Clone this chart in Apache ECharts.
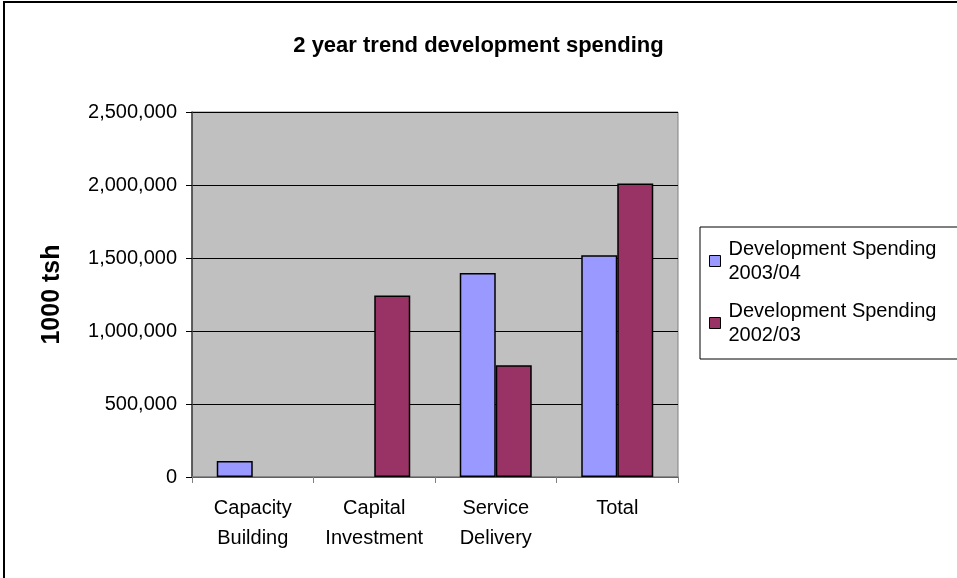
<!DOCTYPE html>
<html>
<head>
<meta charset="utf-8">
<script src="https://cdn.jsdelivr.net/npm/echarts@6/dist/echarts.min.js"></script>
<style>
  html, body { margin: 0; padding: 0; background: #fff; }
  #chart { width: 957px; height: 578px; }
</style>
</head>
<body>
<div id="chart"></div>
<script>
// categories and values (1000 tsh); null = no bar drawn
const categories = ['Capacity\nBuilding', 'Capital\nInvestment', 'Service\nDelivery', 'Total']
const spending0304 = [110000, null, 1397000, 1518000]
const spending0203 = [null, 1244000, 765000, 2011000]
const seriesNames = ['Development Spending\n2003/04', 'Development Spending\n2002/03']

const chart = echarts.init(document.getElementById('chart'))
const font = 'Liberation Sans, Arial, sans-serif'

const option = {
  animation: false,
  backgroundColor: '#fff',
  textStyle: { fontFamily: font },
  title: {
    text: '2 year trend development spending',
    left: 'center',
    top: 30,
    textStyle: { fontSize: 22, fontWeight: 'bold', color: '#000', fontFamily: font }
  },
  graphic: [
    {
      // outer chart frame
      type: 'rect',
      shape: { x: 4, y: 2, width: 1000, height: 700 },
      style: { fill: 'none', stroke: '#000', lineWidth: 2 },
      silent: true
    }
  ],
  legend: {
    orient: 'vertical',
    left: 700,
    top: 227,
    padding: [10, 60, 12, 9],
    borderColor: '#000',
    borderWidth: 1,
    itemWidth: 11,
    itemHeight: 11,
    itemGap: 14,
    icon: 'rect',
    data: seriesNames,
    textStyle: { fontSize: 20, color: '#000', lineHeight: 24, fontFamily: font, padding: [0, 0, 0, 3] },
    itemStyle: { borderColor: '#000', borderWidth: 1 }
  },
  grid: {
    left: 192,
    right: 279,
    top: 112,
    bottom: 101,
    show: true,
    backgroundColor: '#c0c0c0',
    borderColor: '#808080',
    borderWidth: 1
  },
  xAxis: {
    type: 'category',
    data: categories,
    axisLine: { lineStyle: { color: '#808080', width: 1.5 } },
    axisTick: { show: true, length: 6, lineStyle: { color: '#808080' } },
    axisLabel: {
      fontSize: 20,
      lineHeight: 30,
      margin: 16,
      color: '#000',
      fontFamily: font,
      interval: 0
    }
  },
  yAxis: {
    type: 'value',
    min: 0,
    max: 2500000,
    interval: 500000,
    name: '1000 tsh',
    nameLocation: 'middle',
    nameGap: 127,
    nameRotate: 90,
    nameTextStyle: { fontSize: 25, fontWeight: 'bold', color: '#000', fontFamily: font },
    axisLine: { show: true, lineStyle: { color: '#404040', width: 1.5 } },
    axisTick: { show: true, length: 6, lineStyle: { color: '#000' } },
    axisLabel: {
      fontSize: 20,
      margin: 15,
      color: '#000',
      fontFamily: font,
      formatter: v => v.toLocaleString('en-US')
    },
    splitLine: { show: true, lineStyle: { color: '#000', width: 1 } }
  },
  series: [
    {
      name: seriesNames[0],
      type: 'bar',
      data: spending0304,
      barWidth: 36,
      barGap: '0%',
      itemStyle: { color: '#9999ff', borderColor: '#000', borderWidth: 1.5 }
    },
    {
      name: seriesNames[1],
      type: 'bar',
      data: spending0203,
      barWidth: 36,
      barGap: '0%',
      itemStyle: { color: '#993366', borderColor: '#000', borderWidth: 1.5 }
    }
  ]
}

chart.setOption(option)
</script>
</body>
</html>
